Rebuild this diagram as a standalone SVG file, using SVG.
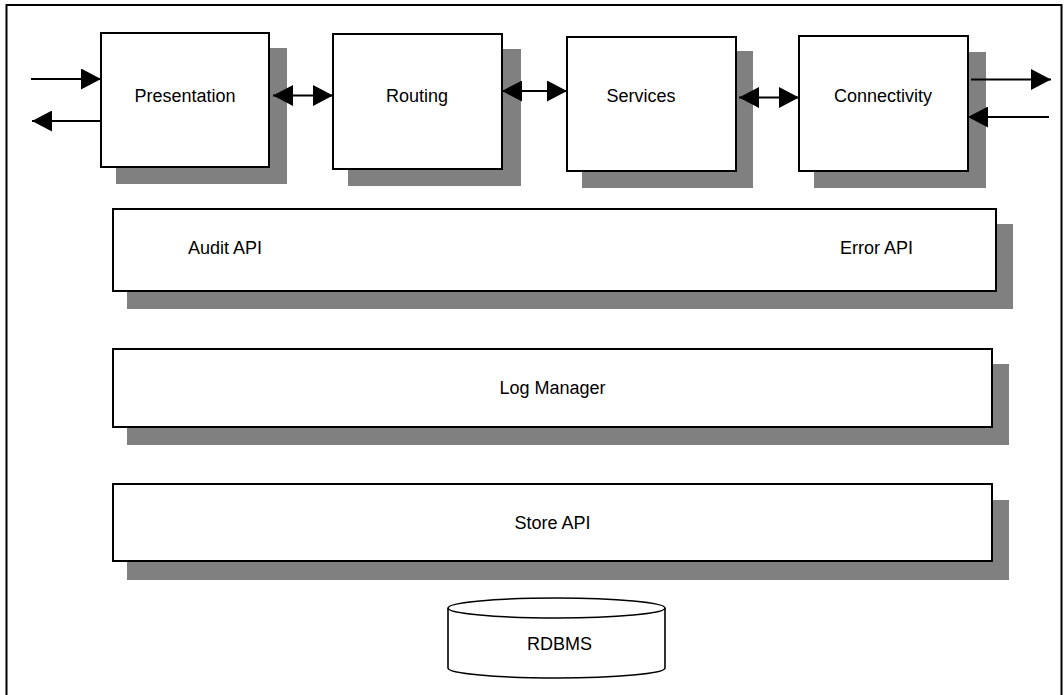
<svg xmlns="http://www.w3.org/2000/svg" width="1064" height="695" viewBox="0 0 1064 695">
<style>
.box{fill:#fff;stroke:#000;stroke-width:2}
.sh{fill:#808080}
.lbl{font-family:"Liberation Sans",Arial,sans-serif;font-size:18px;fill:#000}
.c{text-anchor:middle}
.ln{stroke:#000;stroke-width:2;fill:none}
.cyl{fill:#fff;stroke:#000;stroke-width:1.6}
</style>
<defs>
<marker id="ah" markerUnits="userSpaceOnUse" markerWidth="20" markerHeight="21" viewBox="0 0 20 21" refX="20" refY="10.5" orient="auto-start-reverse">
<path d="M0,0 L20,10.5 L0,21 z" fill="#000"/>
</marker>
</defs>
<rect x="0" y="0" width="1064" height="695" fill="#fff"/>
<rect x="6.5" y="5" width="1055" height="700" fill="none" stroke="#000" stroke-width="2"/>

<g id="presentation">
<rect class="sh" x="116" y="48" width="171" height="136"/>
<rect class="box" x="101" y="33" width="168" height="134"/>
<text class="lbl c" x="185" y="102">Presentation</text>
</g>
<g id="routing">
<rect class="sh" x="348" y="49" width="173" height="137"/>
<rect class="box" x="333" y="34" width="169" height="135"/>
<text class="lbl c" x="417" y="102">Routing</text>
</g>
<g id="services">
<rect class="sh" x="582" y="51" width="171" height="137"/>
<rect class="box" x="567" y="37" width="169" height="134"/>
<text class="lbl c" x="641" y="102">Services</text>
</g>
<g id="connectivity">
<rect class="sh" x="814" y="52" width="172" height="136"/>
<rect class="box" x="799" y="36" width="169" height="135"/>
<text class="lbl c" x="883" y="102">Connectivity</text>
</g>
<g id="api">
<rect class="sh" x="127" y="224" width="886" height="85"/>
<rect class="box" x="113" y="209" width="883" height="82"/>
<text class="lbl" x="188" y="254">Audit API</text>
<text class="lbl" x="840" y="254">Error API</text>
</g>
<g id="logmanager">
<rect class="sh" x="127" y="364" width="882" height="81"/>
<rect class="box" x="113" y="349" width="879" height="78"/>
<text class="lbl c" x="552.5" y="394">Log Manager</text>
</g>
<g id="storeapi">
<rect class="sh" x="127" y="500" width="882" height="80"/>
<rect class="box" x="113" y="484" width="879" height="77"/>
<text class="lbl c" x="552.5" y="529">Store API</text>
</g>
<g id="rdbms">
<path class="cyl" d="M448,608 L448,668 A108.5,10 0 0 0 665,668 L665,608"/>
<ellipse class="cyl" cx="556.5" cy="608" rx="108.5" ry="10"/>
<text class="lbl c" x="559.5" y="650">RDBMS</text>
</g>
<g id="connectors">
<line class="ln" x1="31" y1="79" x2="101" y2="79" marker-end="url(#ah)"/>
<line class="ln" x1="101" y1="121" x2="32" y2="121" marker-end="url(#ah)"/>
<line class="ln" x1="273" y1="95.5" x2="333" y2="95.5" marker-start="url(#ah)" marker-end="url(#ah)"/>
<line class="ln" x1="502" y1="91" x2="567" y2="91" marker-start="url(#ah)" marker-end="url(#ah)"/>
<line class="ln" x1="739" y1="97.5" x2="799" y2="97.5" marker-start="url(#ah)" marker-end="url(#ah)"/>
<line class="ln" x1="971" y1="79.5" x2="1051" y2="79.5" marker-end="url(#ah)"/>
<line class="ln" x1="1049" y1="117" x2="968" y2="117" marker-end="url(#ah)"/>
</g>
</svg>
